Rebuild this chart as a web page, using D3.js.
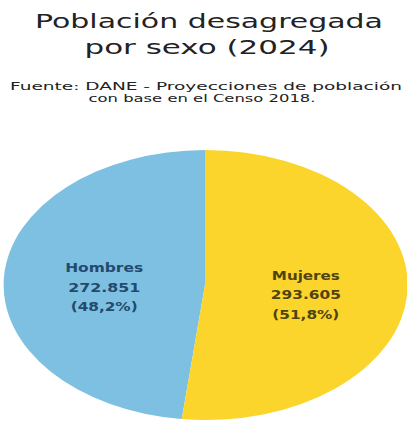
<!DOCTYPE html>
<html>
<head>
<meta charset="utf-8">
<script src="https://cdn.jsdelivr.net/npm/d3@7"></script>
<style>
  html, body { margin: 0; padding: 0; background: #ffffff; }
  svg { display: block; }
</style>
</head>
<body>
<svg id="chart" width="407" height="422"></svg>
<script>
const titleLines = ["Población desagregada", "por sexo (2024)"];
const subtitleLines = ["Fuente: DANE - Proyecciones de población", "con base en el Censo 2018."];
const categories = ["Hombres", "Mujeres"];
const values = [272851, 293605];
const valueLabels = ["272.851", "293.605"];
const percentLabels = ["(48,2%)", "(51,8%)"];
const colors = ["#7ec0e1", "#fbd52c"];
const textColors = ["#234a6e", "#4e4412"];

const svg = d3.select("#chart");
const font = "'DejaVu Sans', Verdana, sans-serif";

// Title
const titleSpec = [
  {x: 209, y: 28, w: 348},
  {x: 207, y: 54, w: 245}
];
svg.append("g").selectAll("text").data(titleLines).join("text")
  .attr("x", (d, i) => titleSpec[i].x)
  .attr("y", (d, i) => titleSpec[i].y)
  .attr("text-anchor", "middle")
  .attr("font-family", font)
  .attr("font-size", 19)
  .attr("fill", "#222")
  .attr("textLength", (d, i) => titleSpec[i].w)
  .attr("lengthAdjust", "spacingAndGlyphs")
  .text(d => d);

// Subtitle
const subSpec = [
  {x: 206, y: 90, w: 392},
  {x: 202, y: 102, w: 227}
];
svg.append("g").selectAll("text").data(subtitleLines).join("text")
  .attr("x", (d, i) => subSpec[i].x)
  .attr("y", (d, i) => subSpec[i].y)
  .attr("text-anchor", "middle")
  .attr("font-family", font)
  .attr("font-size", 11)
  .attr("fill", "#222")
  .attr("textLength", (d, i) => subSpec[i].w)
  .attr("lengthAdjust", "spacingAndGlyphs")
  .text(d => d);

// Pie (elliptical)
const cx = 205, cy = 285, rx = 202, ry = 135;
const data = categories.map((c, i) => ({cat: c, value: values[i], i}));
const pie = d3.pie().value(d => d.value).sort((a, b) => b.value - a.value);
const arcs = pie(data);
const arc = d3.arc().innerRadius(0).outerRadius(1);

const pieG = svg.append("g").attr("transform", `translate(${cx},${cy}) scale(${rx},${ry})`);
pieG.selectAll("path").data(arcs).join("path")
  .attr("d", arc)
  .attr("fill", d => colors[d.data.i]);

// Labels
const labelArc = d3.arc().innerRadius(0.5).outerRadius(0.5);
const widths = [[78, 72, 67], [68, 70, 67]];
const labG = svg.append("g");
arcs.forEach(a => {
  const [ux, uy] = labelArc.centroid(a);
  const lx = cx + ux * rx;
  const ly = cy + uy * ry + 7;
  const lines = [a.data.cat, valueLabels[a.data.i], percentLabels[a.data.i]];
  labG.append("g").selectAll("text").data(lines).join("text")
    .attr("x", lx)
    .attr("y", (d, j) => ly - 20 + j * 19.5 + 4)
    .attr("text-anchor", "middle")
    .attr("font-family", font)
    .attr("font-size", 12)
    .attr("font-weight", "bold")
    .attr("fill", textColors[a.data.i])
    .attr("textLength", (d, j) => widths[a.data.i][j])
    .attr("lengthAdjust", "spacingAndGlyphs")
    .text(d => d);
});
</script>
</body>
</html>
